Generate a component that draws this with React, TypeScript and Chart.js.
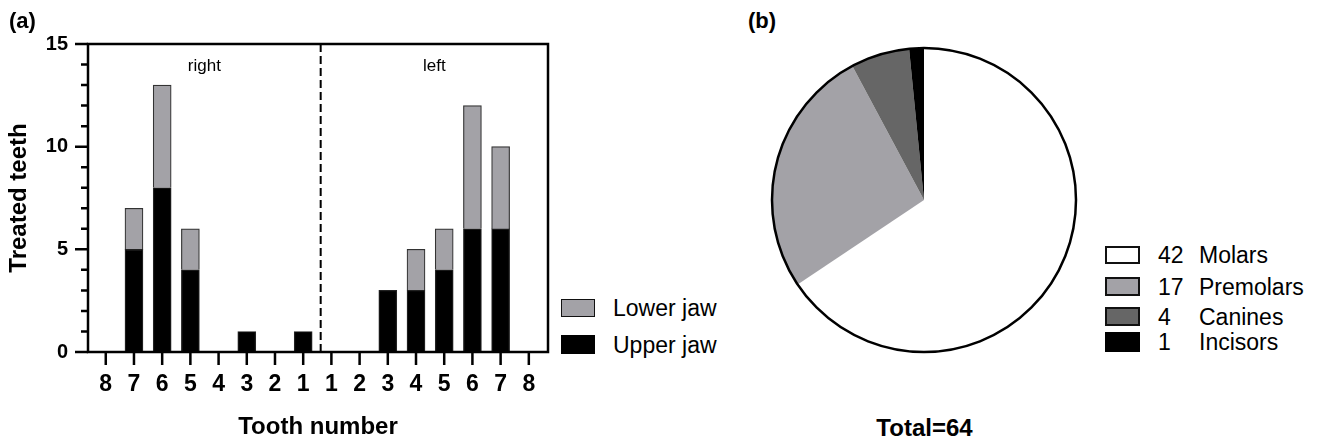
import React, { useEffect, useRef } from 'react';
import { Chart, registerables } from 'chart.js';

Chart.register(...registerables);

// ---------- data ----------
const toothLabels = ['8', '7', '6', '5', '4', '3', '2', '1', '1', '2', '3', '4', '5', '6', '7', '8'];
const upperJaw = [0, 5, 8, 4, 0, 1, 0, 1, 0, 0, 3, 3, 4, 6, 6, 0];
const lowerJaw = [0, 2, 5, 2, 0, 0, 0, 0, 0, 0, 0, 2, 2, 6, 4, 0];
const seriesNames = ['Upper jaw', 'Lower jaw'];
const yTicks = [0, 5, 10, 15];
const sideLabels = ['right', 'left'];

const toothTypes = ['Molars', 'Premolars', 'Canines', 'Incisors'];
const toothTypeCounts = [42, 17, 4, 1];
const totalLabel = 'Total=64';

// ---------- styles ----------
const FONT = '"Liberation Sans", Arial, Helvetica, sans-serif';
const GRAY = '#a3a2a7';
const DARK = '#666666';
const pieColors = ['#ffffff', GRAY, DARK, '#000000'];
const DIVIDER_AT = 7.62;

const framePlugin = {
  id: 'frame',
  afterDraw(chart: any) {
    const { ctx, chartArea: a, scales } = chart;
    const x = scales.x;
    const y = scales.y;
    ctx.save();
    ctx.strokeStyle = '#000';
    ctx.lineWidth = 2.5;
    ctx.strokeRect(a.left, a.top, a.right - a.left, a.bottom - a.top);
    ctx.beginPath();
    for (let v = y.min; v <= y.max; v++) {
      const py = y.getPixelForValue(v);
      const len = v % 5 === 0 ? 13 : 7;
      ctx.moveTo(a.left - len, py);
      ctx.lineTo(a.left, py);
    }
    toothLabels.forEach((_, i) => {
      const px = x.getPixelForValue(i);
      ctx.moveTo(px, a.bottom);
      ctx.lineTo(px, a.bottom + 13);
    });
    ctx.stroke();

    const dx = x.getPixelForValue(DIVIDER_AT);
    ctx.setLineDash([8, 4]);
    ctx.lineWidth = 2;
    ctx.beginPath();
    ctx.moveTo(dx, a.top);
    ctx.lineTo(dx, a.bottom);
    ctx.stroke();
    ctx.setLineDash([]);

    ctx.font = `17px ${FONT}`;
    ctx.fillStyle = '#000';
    ctx.textAlign = 'center';
    ctx.textBaseline = 'alphabetic';
    ctx.fillText(sideLabels[0], (a.left + dx) / 2, a.top + 26.5);
    ctx.fillText(sideLabels[1], (dx + a.right) / 2, a.top + 26.5);
    ctx.restore();
  },
};

const ringPlugin = {
  id: 'ring',
  afterDatasetsDraw(chart: any) {
    const arc = chart.getDatasetMeta(0).data[0];
    if (!arc) return;
    const { ctx } = chart;
    ctx.save();
    ctx.beginPath();
    ctx.arc(arc.x, arc.y, arc.outerRadius, 0, Math.PI * 2);
    ctx.lineWidth = 2.5;
    ctx.strokeStyle = '#000';
    ctx.stroke();
    ctx.restore();
  },
};

function Txt(props: { x: number; base: number; size: number; bold?: boolean; center?: boolean; children: any }) {
  const { x, base, size, bold, center, children } = props;
  const style: any = {
    position: 'absolute',
    top: base - 0.8465 * size,
    fontSize: size,
    lineHeight: `${size}px`,
    fontWeight: bold ? 700 : 400,
    fontFamily: FONT,
    whiteSpace: 'nowrap',
    color: '#000',
  };
  if (center) {
    style.left = x - 150;
    style.width = 300;
    style.textAlign = 'center';
  } else {
    style.left = x;
  }
  return <div style={style}>{children}</div>;
}

function Swatch(props: { x: number; y: number; w: number; h: number; fill: string; border: number }) {
  const { x, y, w, h, fill, border } = props;
  return (
    <div
      style={{
        position: 'absolute',
        left: x,
        top: y,
        width: w,
        height: h,
        boxSizing: 'border-box',
        background: fill,
        border: border > 0 ? `${border}px solid #111` : 'none',
      }}
    />
  );
}

export default function App() {
  const barRef = useRef<HTMLCanvasElement>(null);
  const pieRef = useRef<HTMLCanvasElement>(null);

  useEffect(() => {
    const bar = new Chart(barRef.current as HTMLCanvasElement, {
      type: 'bar',
      data: {
        datasets: [
          {
            label: seriesNames[0],
            data: upperJaw.map((v, i) => ({ x: i, y: v })),
            backgroundColor: '#000',
            borderColor: '#222',
            borderWidth: 1.2,
            barThickness: 18,
          },
          {
            label: seriesNames[1],
            data: lowerJaw.map((v, i) => ({ x: i, y: v })),
            backgroundColor: GRAY,
            borderColor: '#333',
            borderWidth: 1.2,
            barThickness: 18,
          },
        ],
      } as any,
      options: {
        responsive: false,
        animation: false,
        events: [],
        layout: { padding: { left: 0, top: 44, right: 12, bottom: 0 } },
        plugins: { legend: { display: false }, tooltip: { enabled: false } },
        scales: {
          x: {
            type: 'linear',
            stacked: true,
            min: -0.63,
            max: 15.68,
            offset: false,
            afterBuildTicks: (s: any) => {
              s.ticks = toothLabels.map((_, i) => ({ value: i }));
            },
            afterFit: (s: any) => {
              s.height = 90;
            },
            grid: { display: false, drawTicks: true, tickLength: 13 },
            border: { display: false },
            ticks: {
              autoSkip: false,
              maxRotation: 0,
              padding: 6,
              color: '#000',
              font: { family: FONT, size: 23, weight: 'bold' },
              callback: (v: any) => toothLabels[v as number] ?? '',
            },
            title: {
              display: true,
              text: 'Tooth number',
              color: '#000',
              font: { family: FONT, size: 24, weight: 'bold' },
              padding: { top: 0, bottom: 0 },
            },
          },
          y: {
            stacked: true,
            min: 0,
            max: 15,
            afterBuildTicks: (s: any) => {
              s.ticks = yTicks.map((v) => ({ value: v }));
            },
            afterFit: (s: any) => {
              s.width = 88;
            },
            grid: { display: false, drawTicks: true, tickLength: 13 },
            border: { display: false },
            ticks: {
              padding: 7,
              color: '#000',
              font: { family: FONT, size: 20, weight: 'bold' },
            },
            title: {
              display: true,
              text: 'Treated teeth',
              color: '#000',
              font: { family: FONT, size: 24, weight: 'bold' },
              padding: { top: 5, bottom: 0 },
            },
          },
        },
      } as any,
      plugins: [framePlugin],
    });

    const pie = new Chart(pieRef.current as HTMLCanvasElement, {
      type: 'pie',
      data: {
        labels: toothTypes,
        datasets: [
          {
            data: toothTypeCounts,
            backgroundColor: pieColors,
            borderWidth: 0,
            hoverOffset: 0,
            hoverBorderWidth: 0,
          },
        ],
      },
      options: {
        responsive: false,
        animation: false,
        events: [],
        layout: { padding: 8 },
        plugins: { legend: { display: false }, tooltip: { enabled: false } },
      } as any,
      plugins: [ringPlugin],
    });

    return () => {
      bar.destroy();
      pie.destroy();
    };
  }, []);

  const barLegend = [
    { name: seriesNames[1], fill: GRAY, border: 1.5, y: 299, h: 18, base: 316.7 },
    { name: seriesNames[0], fill: '#000', border: 0, y: 335, h: 19, base: 353.3 },
  ];
  const pieLegendGeom = [
    { y: 246, h: 18, base: 263.3, border: 2.5 },
    { y: 277, h: 19, base: 295, border: 2 },
    { y: 307, h: 19, base: 325, border: 2 },
    { y: 332, h: 20, base: 350, border: 0 },
  ];

  return (
    <div
      style={{
        position: 'absolute',
        left: 0,
        top: 0,
        width: 1322,
        height: 442,
        background: '#fff',
        overflow: 'hidden',
        fontFamily: FONT,
      }}
    >
      <canvas
        ref={barRef}
        width={560}
        height={442}
        style={{ position: 'absolute', left: 0, top: 0, width: 560, height: 442 }}
      />
      <canvas
        ref={pieRef}
        width={320}
        height={320}
        style={{ position: 'absolute', left: 764, top: 40, width: 320, height: 320 }}
      />

      <Txt x={9} base={29} size={22} bold>(a)</Txt>
      <Txt x={748} base={29} size={22} bold>(b)</Txt>
      <Txt x={924.5} base={436.7} size={24} bold center>{totalLabel}</Txt>

      {barLegend.map((l) => (
        <React.Fragment key={l.name}>
          <Swatch x={561} y={l.y} w={34} h={l.h} fill={l.fill} border={l.border} />
          <Txt x={613} base={l.base} size={23}>{l.name}</Txt>
        </React.Fragment>
      ))}

      {toothTypes.map((name, i) => (
        <React.Fragment key={name}>
          <Swatch
            x={1105}
            y={pieLegendGeom[i].y}
            w={35}
            h={pieLegendGeom[i].h}
            fill={pieColors[i]}
            border={pieLegendGeom[i].border}
          />
          <Txt x={1158} base={pieLegendGeom[i].base} size={23}>{String(toothTypeCounts[i])}</Txt>
          <Txt x={1199} base={pieLegendGeom[i].base} size={23}>{name}</Txt>
        </React.Fragment>
      ))}
    </div>
  );
}
